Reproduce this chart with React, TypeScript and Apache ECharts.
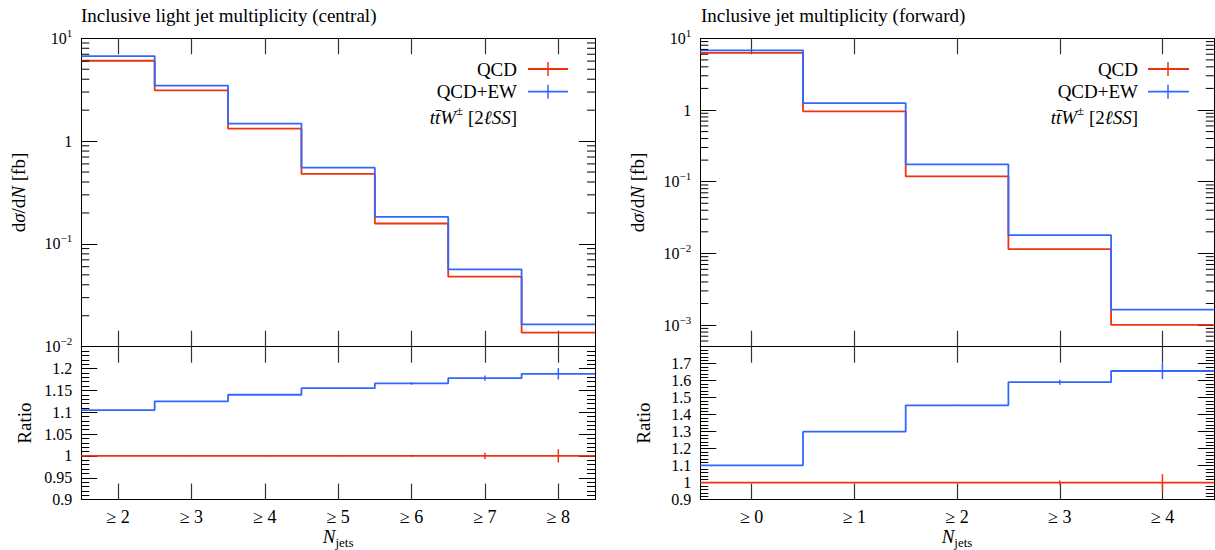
import React, { useEffect, useRef } from "react";
import * as echarts from "echarts";

// ---------- data ----------
const leftCategories = ["≥ 2", "≥ 3", "≥ 4", "≥ 5", "≥ 6", "≥ 7", "≥ 8"];
const leftQCD = [6.05, 3.12, 1.32, 0.479, 0.158, 0.048, 0.0137];
const leftQCDEW = [6.72, 3.46, 1.476, 0.551, 0.183, 0.0566, 0.0165];
const leftRatioQCD = [1, 1, 1, 1, 1, 1, 1];
const leftRatioQCDErr = [0.0003, 0.0004, 0.0006, 0.001, 0.0025, 0.007, 0.015];
const leftRatioQCDEW = [1.105, 1.125, 1.14, 1.155, 1.166, 1.178, 1.188];
const leftRatioQCDEWErr = [0.0003, 0.0004, 0.0006, 0.001, 0.003, 0.006, 0.013];

const rightCategories = ["≥ 0", "≥ 1", "≥ 2", "≥ 3", "≥ 4"];
const rightQCD = [6.25, 0.96, 0.1186, 0.01145, 0.00101];
const rightQCDEW = [6.8, 1.25, 0.175, 0.01795, 0.001645];
const rightRatioQCD = [1, 1, 1, 1, 1];
const rightRatioQCDErr = [0.001, 0.001, 0.002, 0.012, 0.05];
const rightRatioQCDEW = [1.102, 1.3, 1.455, 1.591, 1.657];
const rightRatioQCDEWErr = [0.001, 0.002, 0.004, 0.015, 0.047];

const minorMultipliers = [2, 3, 4, 5, 6, 7, 8, 9];

// ---------- styles ----------
const RED = "#EE3311";
const BLUE = "#3366FF";
const FONT = "'Liberation Serif', 'DejaVu Serif', serif";

const logLabel = (v: number) => {
  const e = Math.log10(v);
  const r = Math.round(e);
  if (Math.abs(e - r) > 1e-6) return "";
  if (r === 0) return "{b|1}";
  return `{b|10}{s|${r < 0 ? "\u2212" + -r : r}}`;
};

const labelRich = {
  b: { fontSize: 16, lineHeight: 22, fontFamily: FONT, color: "#000" },
  s: { fontSize: 11, lineHeight: 11, fontFamily: FONT, color: "#000", verticalAlign: "top" },
};

function stepData(values: number[]) {
  const d: number[][] = values.map((v, i) => [i - 0.5, v]);
  d.push([values.length - 0.5, values[values.length - 1]]);
  return d;
}

function minorValues(minExp: number, maxExp: number, lo: number, hi: number) {
  const out: number[][] = [];
  for (let e = minExp; e < maxExp; e++) {
    for (const m of minorMultipliers) {
      const v = m * Math.pow(10, e);
      if (v > lo * 1.0001 && v < hi * 0.9999) out.push([0, v]);
    }
  }
  return out;
}

export default function App() {
  const ref = useRef<HTMLDivElement>(null);
  useEffect(() => {
    if (!ref.current) return;
    const chart = echarts.init(ref.current, undefined, { renderer: "svg" });

    const grids = [
      { left: 81.3, top: 38.3, width: 513.7, height: 308.4 },
      { left: 81.3, top: 346.7, width: 513.7, height: 154.6 },
      { left: 700.3, top: 38.3, width: 513.5, height: 308.4 },
      { left: 700.3, top: 346.7, width: 513.5, height: 154.6 },
    ];
    const cats = [leftCategories, leftCategories, rightCategories, rightCategories];

    const axisLine = { show: true, onZero: false, lineStyle: { color: "#000", width: 1 } };
    const xAxes: any[] = [];
    grids.forEach((_, g) => {
      const isRatio = g % 2 === 1;
      xAxes.push({
        gridIndex: g,
        type: "category",
        data: cats[g],
        boundaryGap: true,
        position: "bottom",
        axisLine,
        axisTick: { show: true, alignWithLabel: true, inside: true, length: 16, lineStyle: { color: "#333", width: 1.2 } },
        axisLabel: { show: isRatio, fontSize: 18, fontFamily: FONT, color: "#000", margin: 8 },
        splitLine: { show: false },
        name: isRatio ? "{n|N}{s|jets}" : "",
        nameLocation: "middle",
        nameGap: 20,
        nameTextStyle: {
          rich: {
            n: { fontSize: 19, fontStyle: "italic", fontFamily: FONT, color: "#000", lineHeight: 26 },
            s: { fontSize: 13, fontFamily: FONT, color: "#000", lineHeight: 13, verticalAlign: "bottom" },
          },
        },
      });
      xAxes.push({
        gridIndex: g,
        type: "category",
        data: cats[g],
        boundaryGap: true,
        position: "top",
        axisLine,
        axisTick: { show: true, alignWithLabel: true, inside: true, length: 16, lineStyle: { color: "#333", width: 1.2 } },
        axisLabel: { show: false },
        splitLine: { show: false },
      });
      xAxes.push({
        gridIndex: g,
        type: "value",
        min: -0.5,
        max: cats[g].length - 0.5,
        show: false,
        axisLine: { onZero: false },
      });
    });

    const ySpecs = [
      { type: "log", min: 0.01, max: 10, name: "d{i|σ}/d{i|N} [fb]", gap: 53 },
      { type: "value", min: 0.9, max: 1.25, interval: 0.05, name: "Ratio", gap: 47 },
      { type: "log", min: 0.0005, max: 10, name: "d{i|σ}/d{i|N} [fb]", gap: 53 },
      { type: "value", min: 0.9, max: 1.8, interval: 0.1, name: "Ratio", gap: 47 },
    ];
    const yAxes: any[] = [];
    ySpecs.forEach((s, g) => {
      const isLog = s.type === "log";
      const base: any = {
        gridIndex: g,
        type: s.type,
        min: s.min,
        max: s.max,
        axisLine,
        axisTick: { show: true, inside: true, length: 16, lineStyle: { color: "#000", width: 1 } },
        splitLine: { show: false },
        minorTick: isLog
          ? { show: false }
          : { show: true, splitNumber: 5, length: 8, lineStyle: { color: "#000", width: 1 } },
        minorSplitLine: { show: false },
      };
      if (isLog) base.logBase = 10;
      else base.interval = s.interval;
      yAxes.push({
        ...base,
        position: "left",
        axisLabel: {
          show: true,
          margin: 9,
          color: "#000",
          fontFamily: FONT,
          fontSize: 16,
          showMinLabel: true,
          showMaxLabel: true,
          formatter: isLog
            ? logLabel
            : (v: number) => (v > s.max - 1e-9 ? "" : String(parseFloat(v.toFixed(4)))),
          rich: isLog ? labelRich : undefined,
        },
        name: s.name,
        nameLocation: "middle",
        nameGap: s.gap,
        nameRotate: 90,
        nameTextStyle: {
          fontSize: 19,
          fontFamily: FONT,
          color: "#000",
          rich: { i: { fontSize: 19, fontFamily: FONT, fontStyle: "italic", color: "#000" } },
        },
      });
      yAxes.push({
        ...base,
        position: "right",
        axisLabel: { show: false },
      });
    });

    const series: any[] = [];
    const addSteps = (g: number, vals: number[], color: string) => {
      series.push({
        type: "line",
        xAxisIndex: 3 * g + 2,
        yAxisIndex: 2 * g,
        data: stepData(vals),
        step: "end",
        showSymbol: false,
        symbol: "none",
        lineStyle: { color, width: 1.8 },
        itemStyle: { color },
        silent: true,
        z: 3,
      });
    };
    const addErrors = (g: number, vals: number[], errs: number[], color: string) => {
      series.push({
        type: "custom",
        xAxisIndex: 3 * g + 2,
        yAxisIndex: 2 * g,
        data: vals.map((v, i) => [i, v, errs[i]]),
        encode: { x: 0, y: 1 },
        silent: true,
        z: 4,
        renderItem: (_p: any, api: any) => {
          const i = api.value(0);
          const v = api.value(1);
          const e = api.value(2);
          const a = api.coord([i, v - e]);
          const b = api.coord([i, v + e]);
          return {
            type: "line",
            shape: { x1: a[0], y1: a[1], x2: b[0], y2: b[1] },
            style: { stroke: color, lineWidth: 1.5 },
          };
        },
      });
    };
    const addMinor = (g: number, data: number[][]) => {
      series.push({
        type: "custom",
        xAxisIndex: 3 * g + 2,
        yAxisIndex: 2 * g,
        data,
        encode: { x: 0, y: 1 },
        silent: true,
        clip: false,
        z: 5,
        renderItem: (p: any, api: any) => {
          const pt = api.coord([api.value(0), api.value(1)]);
          const cs = p.coordSys;
          return {
            type: "group",
            children: [
              { type: "line", shape: { x1: cs.x, y1: pt[1], x2: cs.x + 8, y2: pt[1] }, style: { stroke: "#000", lineWidth: 1 } },
              {
                type: "line",
                shape: { x1: cs.x + cs.width - 8, y1: pt[1], x2: cs.x + cs.width, y2: pt[1] },
                style: { stroke: "#000", lineWidth: 1 },
              },
            ],
          };
        },
      });
    };

    addSteps(0, leftQCD, RED);
    addSteps(0, leftQCDEW, BLUE);
    addMinor(0, minorValues(-2, 1, 0.01, 10));
    addSteps(1, leftRatioQCD, RED);
    addSteps(1, leftRatioQCDEW, BLUE);
    addErrors(1, leftRatioQCD, leftRatioQCDErr, RED);
    addErrors(1, leftRatioQCDEW, leftRatioQCDEWErr, BLUE);
    addSteps(2, rightQCD, RED);
    addSteps(2, rightQCDEW, BLUE);
    addMinor(2, minorValues(-4, 1, 0.0005, 10));
    addSteps(3, rightRatioQCD, RED);
    addSteps(3, rightRatioQCDEW, BLUE);
    addErrors(3, rightRatioQCD, rightRatioQCDErr, RED);
    addErrors(3, rightRatioQCDEW, rightRatioQCDEWErr, BLUE);

    const legendGraphics = (textRight: number, lx1: number, lx2: number, tx: number) => {
      const rows = [
        { label: "QCD", y: 69, color: RED },
        { label: "QCD+EW", y: 91.7, color: BLUE },
      ];
      const els: any[] = [];
      rows.forEach((r) => {
        els.push({
          type: "text",
          x: textRight,
          y: r.y,
          style: { text: r.label, fill: "#000", fontSize: 19, fontFamily: FONT, align: "right", verticalAlign: "middle" },
        });
        els.push({ type: "line", shape: { x1: lx1, y1: r.y, x2: lx2, y2: r.y }, style: { stroke: r.color, lineWidth: 1.8 } });
        els.push({ type: "line", shape: { x1: tx, y1: r.y - 7, x2: tx, y2: r.y + 7 }, style: { stroke: r.color, lineWidth: 1.5 } });
      });
      els.push({
        type: "text",
        x: textRight,
        y: 117,
        style: {
          text: "{i|tt\u0304W}{s|±} [2{i|ℓSS}]",
          fill: "#000",
          fontSize: 19,
          fontFamily: FONT,
          lineHeight: 26,
          align: "right",
          verticalAlign: "middle",
          rich: {
            i: { fontSize: 19, fontFamily: FONT, fontStyle: "italic", lineHeight: 26, fill: "#000" },
            s: { fontSize: 13, fontFamily: FONT, lineHeight: 13, verticalAlign: "top", fill: "#000" },
          },
        },
      });
      return els;
    };

    chart.setOption({
      animation: false,
      backgroundColor: "#fff",
      title: [
        {
          text: "Inclusive light jet multiplicity (central)",
          left: 81,
          top: 6,
          padding: 0,
          textStyle: { fontSize: 19, fontWeight: "normal", fontFamily: FONT, color: "#000" },
        },
        {
          text: "Inclusive jet multiplicity (forward)",
          left: 701,
          top: 6,
          padding: 0,
          textStyle: { fontSize: 19, fontWeight: "normal", fontFamily: FONT, color: "#000" },
        },
      ],
      grid: grids,
      xAxis: xAxes,
      yAxis: yAxes,
      series,
      graphic: [...legendGraphics(517, 528, 568, 548), ...legendGraphics(1138, 1148, 1189, 1168)],
    });
    return () => chart.dispose();
  }, []);
  return (
    <div
      ref={ref}
      style={{ position: "fixed", left: 0, top: 0, width: 1215, height: 550, background: "#fff" }}
    />
  );
}
